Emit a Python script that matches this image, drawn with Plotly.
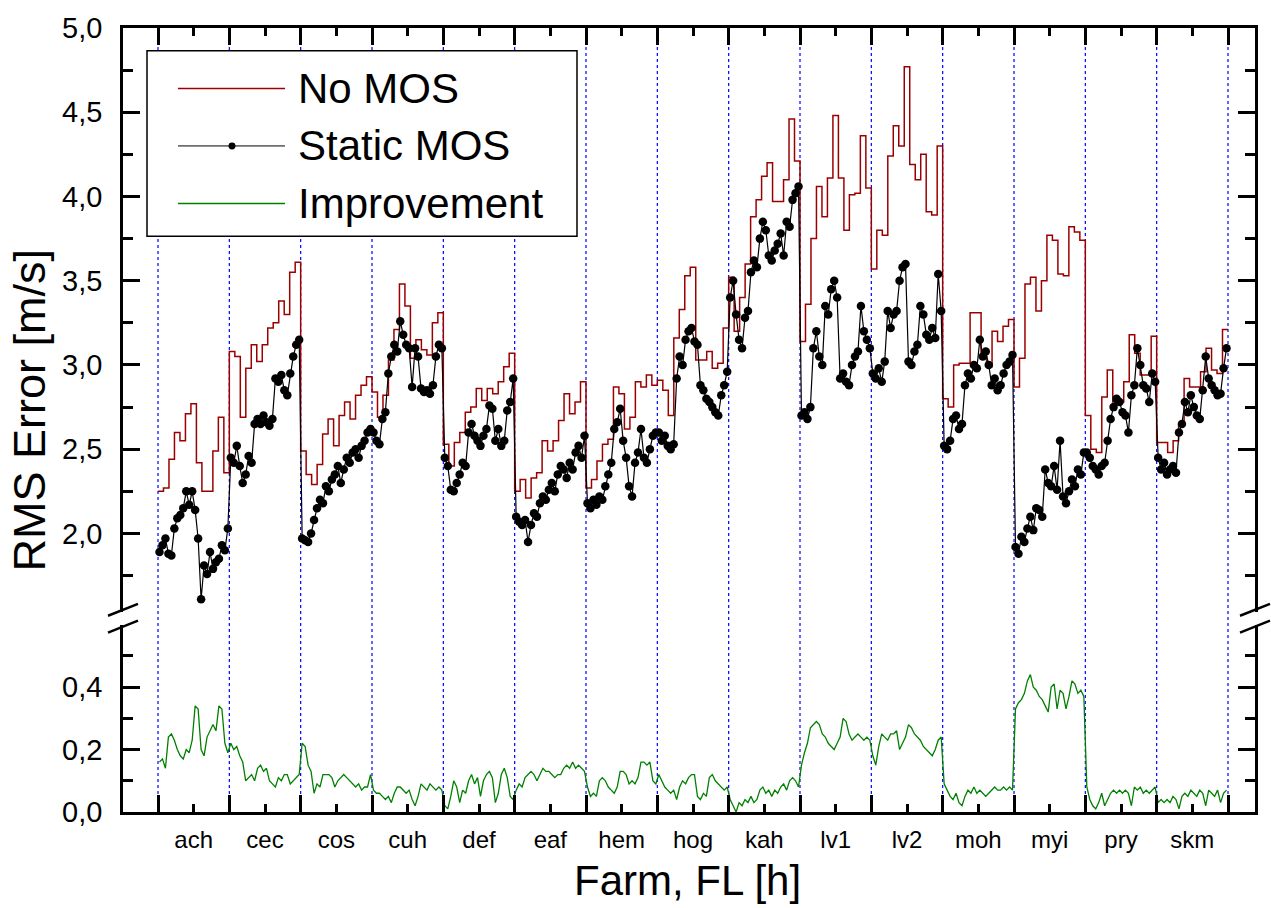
import plotly.graph_objects as go

FARMS = ["ach", "cec", "cos", "cuh", "def", "eaf", "hem", "hog", "kah", "lv1", "lv2", "moh", "myi", "pry", "skm"]

# No MOS: 13 step values per farm
NO_MOS = [
    [2.25, 2.27, 2.44, 2.60, 2.55, 2.71, 2.77, 2.42, 2.25, 2.25, 2.49, 2.69, 2.36],
    [3.08, 3.05, 2.69, 2.98, 3.12, 3.02, 3.12, 3.22, 3.25, 3.38, 3.30, 3.55, 3.61],
    [2.49, 2.35, 2.29, 2.41, 2.59, 2.68, 2.52, 2.70, 2.78, 2.68, 2.82, 2.88, 2.93],
    [2.84, 2.69, 2.82, 3.03, 3.21, 3.48, 3.35, 3.04, 3.15, 3.09, 3.06, 3.25, 3.31],
    [2.53, 2.40, 2.54, 2.60, 2.72, 2.75, 2.86, 2.79, 2.86, 2.83, 2.90, 2.99, 3.07],
    [2.25, 2.32, 2.21, 2.33, 2.36, 2.55, 2.49, 2.55, 2.67, 2.83, 2.71, 2.78, 2.90],
    [2.27, 2.32, 2.43, 2.53, 2.56, 2.87, 2.83, 2.62, 2.69, 2.90, 2.87, 2.94, 2.88],
    [2.91, 2.85, 2.70, 3.16, 3.33, 3.53, 3.58, 3.03, 3.03, 3.08, 2.98, 3.01, 3.22],
    [3.52, 3.20, 3.40, 3.60, 3.88, 3.98, 4.12, 4.20, 3.97, 3.97, 4.10, 4.46, 4.21],
    [3.14, 3.36, 3.75, 4.06, 3.88, 4.11, 4.48, 4.11, 3.80, 4.01, 4.02, 4.36, 4.05],
    [3.57, 3.80, 3.77, 4.24, 4.42, 4.30, 4.77, 4.19, 4.10, 4.25, 3.91, 3.89, 4.30],
    [2.80, 2.75, 3.00, 3.01, 3.01, 3.31, 3.31, 3.05, 2.99, 3.20, 3.14, 3.23, 3.27],
    [2.87, 3.04, 3.48, 3.52, 3.32, 3.50, 3.77, 3.74, 3.54, 3.53, 3.82, 3.79, 3.74],
    [2.70, 2.50, 2.48, 2.81, 2.97, 2.78, 2.78, 2.90, 3.18, 3.07, 2.94, 2.94, 3.17],
    [2.54, 2.54, 2.48, 2.55, 2.64, 2.92, 2.87, 2.87, 2.96, 3.10, 2.97, 2.95, 3.21],
]

# Static MOS: 24 values per farm
STATIC_MOS = [
    [1.89, 1.93, 1.97, 1.88, 1.87, 2.03, 2.09, 2.11, 2.15, 2.25, 2.17, 2.25, 2.14, 1.97, 1.61, 1.81, 1.76, 1.89, 1.79, 1.83, 1.85, 1.93, 1.90, 2.03],
    [2.45, 2.42, 2.52, 2.40, 2.30, 2.35, 2.46, 2.42, 2.65, 2.68, 2.65, 2.70, 2.66, 2.64, 2.68, 2.92, 2.90, 2.94, 2.85, 2.82, 2.95, 3.05, 3.12, 3.15],
    [1.97, 1.96, 1.95, 2.00, 2.08, 2.15, 2.20, 2.18, 2.28, 2.25, 2.32, 2.35, 2.40, 2.30, 2.38, 2.45, 2.42, 2.48, 2.50, 2.45, 2.52, 2.55, 2.60, 2.62],
    [2.60, 2.55, 2.53, 2.68, 2.72, 2.95, 3.05, 3.12, 3.08, 3.26, 3.18, 3.12, 3.10, 2.87, 3.10, 3.05, 2.86, 2.84, 2.85, 2.83, 2.88, 3.05, 3.12, 3.10],
    [2.45, 2.40, 2.26, 2.25, 2.30, 2.35, 2.42, 2.40, 2.60, 2.65, 2.58, 2.55, 2.52, 2.58, 2.62, 2.76, 2.74, 2.55, 2.62, 2.52, 2.55, 2.73, 2.78, 2.92],
    [2.10, 2.07, 2.05, 2.08, 1.95, 2.05, 2.12, 2.10, 2.18, 2.22, 2.20, 2.26, 2.30, 2.25, 2.35, 2.40, 2.38, 2.33, 2.42, 2.38, 2.48, 2.52, 2.45, 2.58],
    [2.18, 2.15, 2.20, 2.17, 2.22, 2.20, 2.28, 2.35, 2.42, 2.62, 2.66, 2.74, 2.55, 2.45, 2.28, 2.22, 2.42, 2.48, 2.62, 2.45, 2.42, 2.50, 2.58, 2.60],
    [2.60, 2.55, 2.58, 2.52, 2.50, 2.53, 2.92, 3.05, 3.00, 3.15, 3.20, 3.22, 3.14, 3.12, 2.88, 2.85, 2.80, 2.78, 2.75, 2.72, 2.70, 2.82, 2.88, 2.96],
    [3.40, 3.50, 3.30, 3.15, 3.10, 3.28, 3.32, 3.55, 3.62, 3.58, 3.75, 3.85, 3.80, 3.65, 3.62, 3.68, 3.72, 3.78, 3.65, 3.85, 3.82, 3.98, 4.02, 4.06],
    [2.70, 2.72, 2.68, 2.75, 3.10, 3.20, 3.05, 3.00, 3.35, 3.30, 3.45, 3.50, 3.40, 2.92, 2.95, 2.90, 2.88, 3.00, 3.05, 3.08, 3.35, 3.20, 3.15, 3.10],
    [2.95, 2.92, 2.98, 2.90, 3.02, 3.32, 3.22, 3.30, 3.32, 3.50, 3.58, 3.60, 3.02, 3.00, 3.08, 3.12, 3.35, 3.30, 3.18, 3.15, 3.22, 3.16, 3.54, 3.32],
    [2.52, 2.50, 2.55, 2.68, 2.70, 2.62, 2.65, 2.88, 2.95, 2.92, 3.00, 2.98, 3.15, 3.05, 3.08, 3.00, 2.88, 2.92, 2.85, 2.88, 2.95, 3.00, 3.02, 3.06],
    [1.92, 1.88, 1.98, 1.95, 2.03, 2.10, 2.02, 2.15, 2.14, 2.10, 2.38, 2.30, 2.28, 2.40, 2.26, 2.55, 2.22, 2.18, 2.25, 2.32, 2.28, 2.38, 2.35, 2.48],
    [2.48, 2.45, 2.40, 2.38, 2.35, 2.40, 2.42, 2.55, 2.68, 2.75, 2.80, 2.78, 2.72, 2.70, 2.60, 2.82, 2.88, 3.10, 3.00, 2.88, 2.86, 2.78, 2.95, 2.90],
    [2.45, 2.38, 2.42, 2.35, 2.38, 2.40, 2.36, 2.60, 2.65, 2.78, 2.72, 2.82, 2.75, 2.70, 2.68, 2.85, 3.05, 2.92, 2.88, 2.85, 2.82, 2.83, 2.98, 3.10],
]

# Improvement: 24 values per farm
IMPROVEMENT = [
    [0.16, 0.17, 0.14, 0.24, 0.25, 0.23, 0.20, 0.18, 0.17, 0.20, 0.19, 0.23, 0.34, 0.33, 0.20, 0.18, 0.24, 0.26, 0.28, 0.26, 0.34, 0.33, 0.22, 0.19],
    [0.22, 0.20, 0.21, 0.18, 0.16, 0.10, 0.11, 0.12, 0.10, 0.14, 0.15, 0.13, 0.14, 0.10, 0.09, 0.08, 0.11, 0.10, 0.12, 0.12, 0.09, 0.10, 0.11, 0.12],
    [0.22, 0.21, 0.15, 0.13, 0.06, 0.09, 0.08, 0.12, 0.12, 0.12, 0.11, 0.08, 0.10, 0.11, 0.12, 0.11, 0.10, 0.09, 0.08, 0.09, 0.07, 0.08, 0.08, 0.12],
    [0.07, 0.06, 0.06, 0.05, 0.04, 0.05, 0.03, 0.06, 0.08, 0.08, 0.07, 0.06, 0.07, 0.04, 0.02, 0.05, 0.09, 0.08, 0.07, 0.09, 0.08, 0.07, 0.08, 0.07],
    [0.02, 0.01, 0.05, 0.10, 0.08, 0.03, 0.07, 0.06, 0.10, 0.12, 0.09, 0.11, 0.05, 0.10, 0.12, 0.13, 0.11, 0.03, 0.06, 0.12, 0.14, 0.11, 0.05, 0.04],
    [0.07, 0.09, 0.08, 0.11, 0.12, 0.13, 0.12, 0.10, 0.12, 0.14, 0.13, 0.13, 0.12, 0.11, 0.12, 0.12, 0.14, 0.15, 0.14, 0.16, 0.14, 0.15, 0.14, 0.13],
    [0.08, 0.05, 0.06, 0.05, 0.10, 0.11, 0.10, 0.08, 0.07, 0.06, 0.08, 0.13, 0.13, 0.12, 0.09, 0.10, 0.09, 0.11, 0.16, 0.16, 0.15, 0.16, 0.10, 0.09],
    [0.12, 0.10, 0.08, 0.07, 0.06, 0.07, 0.04, 0.08, 0.10, 0.09, 0.11, 0.12, 0.12, 0.05, 0.04, 0.06, 0.05, 0.11, 0.12, 0.10, 0.09, 0.08, 0.07, 0.08],
    [0.04, 0.02, 0.00, 0.03, 0.02, 0.04, 0.03, 0.05, 0.03, 0.04, 0.07, 0.08, 0.06, 0.07, 0.05, 0.07, 0.06, 0.08, 0.09, 0.07, 0.10, 0.11, 0.10, 0.08],
    [0.15, 0.19, 0.22, 0.27, 0.28, 0.29, 0.28, 0.25, 0.24, 0.22, 0.21, 0.20, 0.22, 0.24, 0.30, 0.29, 0.25, 0.23, 0.24, 0.25, 0.24, 0.23, 0.24, 0.23],
    [0.18, 0.15, 0.21, 0.25, 0.24, 0.23, 0.25, 0.25, 0.26, 0.20, 0.22, 0.24, 0.28, 0.27, 0.25, 0.24, 0.23, 0.21, 0.20, 0.19, 0.18, 0.20, 0.23, 0.24],
    [0.09, 0.07, 0.05, 0.04, 0.06, 0.03, 0.02, 0.05, 0.07, 0.06, 0.08, 0.06, 0.07, 0.06, 0.05, 0.06, 0.07, 0.08, 0.07, 0.07, 0.08, 0.07, 0.08, 0.07],
    [0.33, 0.35, 0.36, 0.38, 0.42, 0.44, 0.40, 0.39, 0.37, 0.36, 0.34, 0.32, 0.40, 0.41, 0.33, 0.39, 0.38, 0.33, 0.37, 0.42, 0.41, 0.38, 0.39, 0.37],
    [0.08, 0.04, 0.02, 0.01, 0.03, 0.06, 0.02, 0.04, 0.06, 0.07, 0.06, 0.07, 0.06, 0.07, 0.06, 0.02, 0.08, 0.07, 0.08, 0.06, 0.07, 0.06, 0.07, 0.08],
    [0.03, 0.04, 0.03, 0.04, 0.03, 0.05, 0.04, 0.01, 0.05, 0.06, 0.05, 0.07, 0.06, 0.05, 0.07, 0.06, 0.02, 0.07, 0.06, 0.05, 0.07, 0.03, 0.06, 0.07],
]

UPPER_TICKS = [2.0, 2.5, 3.0, 3.5, 4.0, 4.5, 5.0]
LOWER_TICKS = [0.0, 0.2, 0.4]

# ---- build x positions (farm units) ----
x_nomos, y_nomos = [], []
for i, vals in enumerate(NO_MOS):
    n = len(vals)
    for k, v in enumerate(vals):
        x_nomos.append(i + k / n)
        y_nomos.append(v)
x_nomos.append(len(NO_MOS))
y_nomos.append(NO_MOS[-1][-1])

x_mos, y_mos = [], []
for i, vals in enumerate(STATIC_MOS):
    n = len(vals)
    for k, v in enumerate(vals):
        x_mos.append(i + (k + 0.5) / n)
        y_mos.append(v)

x_imp, y_imp = [], []
for i, vals in enumerate(IMPROVEMENT):
    n = len(vals)
    for k, v in enumerate(vals):
        x_imp.append(i + (k + 0.5) / n)
        y_imp.append(v)

W, H = 1271, 908
L, R, T, B = 123, 1255, 21, 812
UP_BOTTOM, LOW_TOP = 610, 623


def px(xp):
    return (xp - L) / (R - L)


def py(yp):
    return (B - yp) / (B - T)


FONT = "Liberation Sans, Arial, sans-serif"
nf = len(FARMS)
xrange_ = [-35 / 71.33, nf + 27 / 71.33]

fig = go.Figure()
fig.add_trace(go.Scatter(x=x_nomos, y=y_nomos, mode="lines", line=dict(color="#9B0000", width=1.5, shape="hv"),
                         xaxis="x2", yaxis="y", showlegend=False))
fig.add_trace(go.Scatter(x=x_mos, y=y_mos, mode="lines+markers", line=dict(color="black", width=1.2),
                         marker=dict(color="black", size=8.5), xaxis="x2", yaxis="y", showlegend=False))
fig.add_trace(go.Scatter(x=x_imp, y=y_imp, mode="lines", line=dict(color="#008000", width=1.3),
                         xaxis="x", yaxis="y2", showlegend=False))

axis_common = dict(showline=True, linecolor="black", linewidth=2.5, ticks="inside", tickcolor="black",
                   tickwidth=2.5, showgrid=False, zeroline=False,
                   tickfont=dict(family=FONT, size=29, color="black"))

fig.update_layout(
    width=W, height=H,
    margin=dict(l=L, r=W - R, t=T, b=H - B),
    plot_bgcolor="white", paper_bgcolor="white",
    separators=",.",
    showlegend=False,
    xaxis=dict(axis_common, domain=[0, 1], anchor="y2", range=xrange_, side="bottom",
               tickmode="array", tickvals=[i + 0.5 for i in range(nf)], ticktext=FARMS, ticklen=8,
               tickfont=dict(family=FONT, size=24, color="black"), ticklabelstandoff=4,
               minor=dict(tickvals=list(range(nf + 1)), ticklen=17, tickwidth=2.5, tickcolor="black",
                          ticks="inside")),
    xaxis2=dict(axis_common, domain=[0, 1], anchor="y", range=xrange_, side="top", matches="x",
                showticklabels=False, tickmode="array", tickvals=[i + 0.5 for i in range(nf)], ticklen=8,
                minor=dict(tickvals=list(range(nf + 1)), ticklen=17, tickwidth=2.5, tickcolor="black",
                           ticks="inside")),
    yaxis=dict(axis_common, domain=[py(UP_BOTTOM), 1], anchor="x2", range=[5.0 - (UP_BOTTOM - T) / 170, 5.0],
               tickmode="array", tickvals=UPPER_TICKS, tickformat=".1f", ticklen=17, mirror="allticks",
               ticklabelstandoff=12,
               minor=dict(dtick=0.25, tick0=0, ticklen=10, tickwidth=2.5, tickcolor="black", ticks="inside")),
    yaxis2=dict(axis_common, domain=[0, py(LOW_TOP)], anchor="x", range=[0, (B - LOW_TOP) / 315],
                tickmode="array", tickvals=LOWER_TICKS, tickformat=".1f", ticklen=17, mirror="allticks",
                ticklabelstandoff=12,
                minor=dict(tickvals=[0.1, 0.3, 0.5], ticklen=10, tickwidth=2.5, tickcolor="black", ticks="inside")),
)

shapes = []
# farm separators
for i in range(nf + 1):
    shapes.append(dict(type="line", xref="x", yref="paper", x0=i, x1=i, y0=0, y1=1,
                       line=dict(color="#0000FF", width=1.2, dash="dot"), layer="below"))
# break marks
for xc in (L, R):
    for yc in (UP_BOTTOM - 2, LOW_TOP + 2):
        shapes.append(dict(type="line", xref="paper", yref="paper",
                           x0=px(xc - 15), y0=py(yc + 6), x1=px(xc + 15), y1=py(yc - 6),
                           line=dict(color="black", width=2.5)))
# manual legend
shapes.append(dict(type="rect", xref="paper", yref="paper", x0=px(147), x1=px(577), y0=py(44), y1=py(231),
                   line=dict(color="black", width=1.5), fillcolor="white", layer="above"))
legend_items = [("No MOS", "#9B0000", 82, False), ("Static MOS", "black", 140, True), ("Improvement", "#008000", 198, False)]
annotations = []
for name, col, yy, dot in legend_items:
    shapes.append(dict(type="line", xref="paper", yref="paper", x0=px(178), x1=px(285), y0=py(yy), y1=py(yy),
                       line=dict(color=col, width=1.5 if col != "black" else 1)))
    if dot:
        shapes.append(dict(type="circle", xref="paper", yref="paper", x0=px(228.5), x1=px(235.5),
                           y0=py(yy + 3.5), y1=py(yy - 3.5), fillcolor="black", line=dict(color="black", width=0)))
    annotations.append(dict(text=name, xref="paper", yref="paper", x=px(296), y=py(yy), xanchor="left",
                            yanchor="middle", showarrow=False, font=dict(family=FONT, size=42, color="black")))

annotations.append(dict(text="RMS Error [m/s]", xref="paper", yref="paper", x=px(30), y=py(407),
                        textangle=-90, showarrow=False, xanchor="center", yanchor="middle",
                        font=dict(family=FONT, size=45, color="black")))
annotations.append(dict(text="Farm, FL [h]", xref="paper", yref="paper", x=px(687), y=py(881),
                        showarrow=False, xanchor="center", yanchor="middle",
                        font=dict(family=FONT, size=42, color="black")))

fig.update_layout(shapes=shapes, annotations=annotations)
fig.write_html("out.html")
